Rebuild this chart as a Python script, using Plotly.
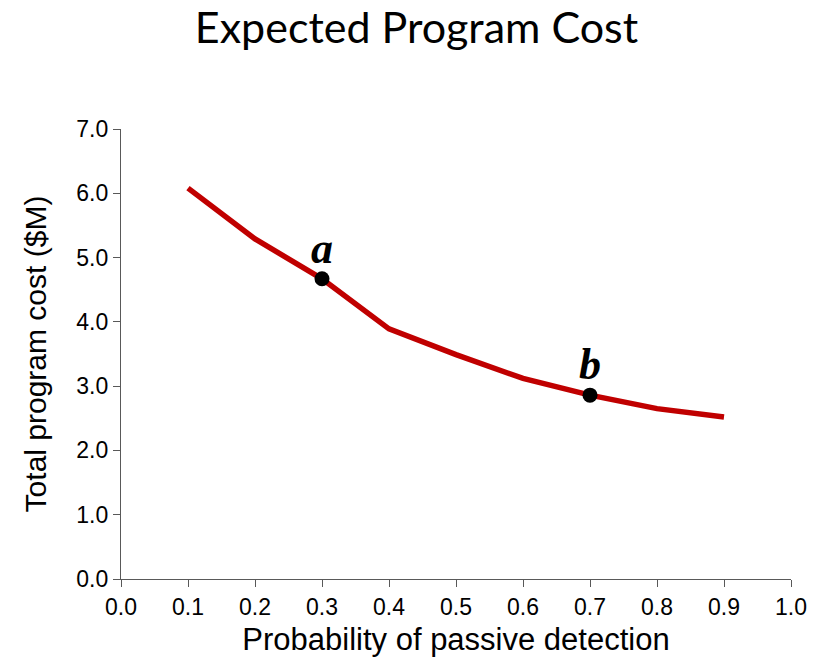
import plotly.graph_objects as go

prob = [0.1, 0.2, 0.3, 0.4, 0.5, 0.6, 0.7, 0.8, 0.9]
cost = [6.08, 5.29, 4.67, 3.89, 3.49, 3.12, 2.86, 2.65, 2.52]

mark_x = [0.3, 0.7]
mark_y = [4.67, 2.86]
mark_labels = ["a", "b"]

x_ticks = [0.0, 0.1, 0.2, 0.3, 0.4, 0.5, 0.6, 0.7, 0.8, 0.9, 1.0]
y_ticks = [0.0, 1.0, 2.0, 3.0, 4.0, 5.0, 6.0, 7.0]

fig = go.Figure()
fig.add_trace(go.Scatter(x=prob, y=cost, mode="lines",
                         line=dict(color="#C00000", width=5.5), showlegend=False))
fig.add_trace(go.Scatter(x=mark_x, y=mark_y, mode="markers",
                         marker=dict(color="black", size=15), showlegend=False))

for mx, my, lab in zip(mark_x, mark_y, mark_labels):
    fig.add_annotation(x=mx, y=my, text="<b><i>%s</i></b>" % lab, showarrow=False,
                       yanchor="bottom", yshift=4,
                       font=dict(family="Liberation Serif", size=44, color="black"))

axis_common = dict(showline=True, linecolor="#595959", linewidth=1.3,
                   ticks="outside", ticklen=7, tickcolor="#595959", tickwidth=1.3,
                   showgrid=False, zeroline=False,
                   tickfont=dict(family="Liberation Sans", size=23, color="black"))

fig.update_xaxes(range=[0, 1.0], tickvals=x_ticks,
                 ticktext=["%.1f" % v for v in x_ticks],
                 title=dict(text="Probability of passive detection", standoff=9,
                            font=dict(family="Liberation Sans", size=31, color="black")),
                 **axis_common)
fig.update_yaxes(range=[0, 7.0], tickvals=y_ticks,
                 ticktext=["%.1f" % v for v in y_ticks],
                 title=dict(text="Total program cost ($M)", standoff=20,
                            font=dict(family="Liberation Sans", size=30, color="black")),
                 **axis_common)

fig.update_layout(
    width=817, height=658,
    margin=dict(l=113, r=34, t=121, b=87),
    paper_bgcolor="white", plot_bgcolor="white",
    title=dict(text="Expected Program Cost", x=0.5, xanchor="center",
               y=0.992, yanchor="top",
               font=dict(family="Lato", size=43, color="black")),
)

fig.write_html("out.html")
